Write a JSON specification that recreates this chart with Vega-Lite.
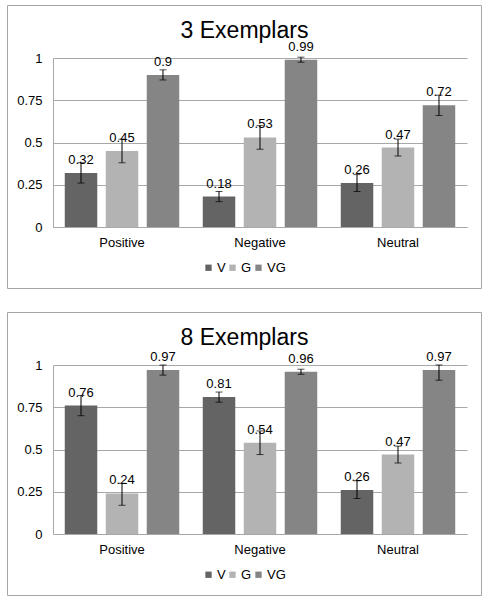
{
  "$schema": "https://vega.github.io/schema/vega-lite/v6.json",
  "padding": {"left": 6, "top": 4, "right": 0, "bottom": 0},
  "background": "white",
  "spacing": 24,
  "bounds": "flush",
  "config": {
    "font": "Liberation Sans",
    "view": {"stroke": "#a6a6a6", "strokeWidth": 1},
    "axis": {"labelFont": "Liberation Sans", "labelFontSize": 13, "labelColor": "#000000", "titleFont": "Liberation Sans"},
    "legend": {"labelFont": "Liberation Sans"}
  },
  "datasets": {
    "scores": [
      {"panel": "3 Exemplars", "cat": "Positive", "series": "V", "value": 0.32, "lo": 0.26, "hi": 0.38},
      {"panel": "3 Exemplars", "cat": "Positive", "series": "G", "value": 0.45, "lo": 0.38, "hi": 0.52},
      {"panel": "3 Exemplars", "cat": "Positive", "series": "VG", "value": 0.9, "lo": 0.87, "hi": 0.93},
      {"panel": "3 Exemplars", "cat": "Negative", "series": "V", "value": 0.18, "lo": 0.15, "hi": 0.21},
      {"panel": "3 Exemplars", "cat": "Negative", "series": "G", "value": 0.53, "lo": 0.46, "hi": 0.6},
      {"panel": "3 Exemplars", "cat": "Negative", "series": "VG", "value": 0.99, "lo": 0.975, "hi": 1.005},
      {"panel": "3 Exemplars", "cat": "Neutral", "series": "V", "value": 0.26, "lo": 0.21, "hi": 0.31},
      {"panel": "3 Exemplars", "cat": "Neutral", "series": "G", "value": 0.47, "lo": 0.42, "hi": 0.52},
      {"panel": "3 Exemplars", "cat": "Neutral", "series": "VG", "value": 0.72, "lo": 0.66, "hi": 0.78},
      {"panel": "8 Exemplars", "cat": "Positive", "series": "V", "value": 0.76, "lo": 0.7, "hi": 0.82},
      {"panel": "8 Exemplars", "cat": "Positive", "series": "G", "value": 0.24, "lo": 0.17, "hi": 0.3},
      {"panel": "8 Exemplars", "cat": "Positive", "series": "VG", "value": 0.97, "lo": 0.94, "hi": 1.0},
      {"panel": "8 Exemplars", "cat": "Negative", "series": "V", "value": 0.81, "lo": 0.78, "hi": 0.84},
      {"panel": "8 Exemplars", "cat": "Negative", "series": "G", "value": 0.54, "lo": 0.47, "hi": 0.61},
      {"panel": "8 Exemplars", "cat": "Negative", "series": "VG", "value": 0.96, "lo": 0.945, "hi": 0.975},
      {"panel": "8 Exemplars", "cat": "Neutral", "series": "V", "value": 0.26, "lo": 0.21, "hi": 0.315},
      {"panel": "8 Exemplars", "cat": "Neutral", "series": "G", "value": 0.47, "lo": 0.42, "hi": 0.52},
      {"panel": "8 Exemplars", "cat": "Neutral", "series": "VG", "value": 0.97, "lo": 0.91, "hi": 1.0}
    ]
  },
  "resolve": {"legend": {"color": "independent"}, "scale": {"color": "independent"}},
  "vconcat": [
    {
      "width": 474,
      "height": 283,
      "data": {"name": "scores"},
      "transform": [{"filter": "datum.panel === '3 Exemplars'"}],
      "encoding": {
        "x": {"field": "cat", "type": "nominal", "sort": ["Positive", "Negative", "Neutral"],
          "scale": {"range": [46, 460], "paddingInner": 0, "paddingOuter": 0},
          "axis": {"orient": "bottom", "offset": -61, "title": null, "labelAngle": 0, "ticks": false, "domain": true, "domainColor": "#a8a8a8", "labelPadding": 9, "grid": false}},
        "xOffset": {"field": "series", "type": "nominal", "sort": ["V", "G", "VG"], "scale": {"paddingInner": 0.207, "paddingOuter": 0.287}}
      },
      "layer": [
        {"mark": {"type": "bar"},
         "encoding": {
           "y": {"field": "value", "type": "quantitative", "title": "3 Exemplars",
             "scale": {"domain": [0, 1], "range": [222, 53], "nice": false, "zero": true},
             "axis": {"orient": "left", "offset": -46, "values": [0, 0.25, 0.5, 0.75, 1], "format": ".2~f", "ticks": false, "domain": true, "domainColor": "#a8a8a8", "labelPadding": 11, "grid": true, "gridColor": "#a8a8a8", "gridOpacity": 1,
               "titleAngle": 0, "titleX": 191, "titleY": 32, "titleAlign": "center", "titleBaseline": "alphabetic", "titleFontSize": 23, "titleFontWeight": "normal", "titleColor": "#000000"}},
           "color": {"field": "series", "type": "nominal", "sort": ["V", "G", "VG"],
             "scale": {"domain": ["V", "G", "VG"], "range": ["#646464", "#b3b3b3", "#858585"]},
             "legend": {"orient": "none", "legendX": 195, "legendY": 256, "direction": "horizontal", "title": null, "symbolType": "square", "symbolSize": 40, "labelFontSize": 13, "labelOffset": 2, "columnPadding": 0, "padding": 0, "symbolStrokeWidth": 0}}
         }},
        {"mark": {"type": "rule", "color": "#000000", "strokeWidth": 1},
         "encoding": {"y": {"field": "lo", "type": "quantitative"}, "y2": {"field": "hi"}}},
        {"mark": {"type": "tick", "color": "#000000", "size": 7, "thickness": 1},
         "encoding": {"y": {"field": "lo", "type": "quantitative"}}},
        {"mark": {"type": "tick", "color": "#000000", "size": 7, "thickness": 1},
         "encoding": {"y": {"field": "hi", "type": "quantitative"}}},
        {"mark": {"type": "text", "dy": -9, "baseline": "alphabetic", "fontSize": 13, "color": "#000000"},
         "encoding": {"y": {"field": "value", "type": "quantitative"}, "text": {"field": "value", "type": "quantitative", "format": ".2~f"}}}
      ]
    },
    {
      "width": 474,
      "height": 283,
      "data": {"name": "scores"},
      "transform": [{"filter": "datum.panel === '8 Exemplars'"}],
      "encoding": {
        "x": {"field": "cat", "type": "nominal", "sort": ["Positive", "Negative", "Neutral"],
          "scale": {"range": [46, 460], "paddingInner": 0, "paddingOuter": 0},
          "axis": {"orient": "bottom", "offset": -61, "title": null, "labelAngle": 0, "ticks": false, "domain": true, "domainColor": "#a8a8a8", "labelPadding": 9, "grid": false}},
        "xOffset": {"field": "series", "type": "nominal", "sort": ["V", "G", "VG"], "scale": {"paddingInner": 0.207, "paddingOuter": 0.287}}
      },
      "layer": [
        {"mark": {"type": "bar"},
         "encoding": {
           "y": {"field": "value", "type": "quantitative", "title": "8 Exemplars",
             "scale": {"domain": [0, 1], "range": [222, 53], "nice": false, "zero": true},
             "axis": {"orient": "left", "offset": -46, "values": [0, 0.25, 0.5, 0.75, 1], "format": ".2~f", "ticks": false, "domain": true, "domainColor": "#a8a8a8", "labelPadding": 11, "grid": true, "gridColor": "#a8a8a8", "gridOpacity": 1,
               "titleAngle": 0, "titleX": 191, "titleY": 32, "titleAlign": "center", "titleBaseline": "alphabetic", "titleFontSize": 23, "titleFontWeight": "normal", "titleColor": "#000000"}},
           "color": {"field": "series", "type": "nominal", "sort": ["V", "G", "VG"],
             "scale": {"domain": ["V", "G", "VG"], "range": ["#646464", "#b3b3b3", "#858585"]},
             "legend": {"orient": "none", "legendX": 195, "legendY": 256, "direction": "horizontal", "title": null, "symbolType": "square", "symbolSize": 40, "labelFontSize": 13, "labelOffset": 2, "columnPadding": 0, "padding": 0, "symbolStrokeWidth": 0}}
         }},
        {"mark": {"type": "rule", "color": "#000000", "strokeWidth": 1},
         "encoding": {"y": {"field": "lo", "type": "quantitative"}, "y2": {"field": "hi"}}},
        {"mark": {"type": "tick", "color": "#000000", "size": 7, "thickness": 1},
         "encoding": {"y": {"field": "lo", "type": "quantitative"}}},
        {"mark": {"type": "tick", "color": "#000000", "size": 7, "thickness": 1},
         "encoding": {"y": {"field": "hi", "type": "quantitative"}}},
        {"mark": {"type": "text", "dy": -9, "baseline": "alphabetic", "fontSize": 13, "color": "#000000"},
         "encoding": {"y": {"field": "value", "type": "quantitative"}, "text": {"field": "value", "type": "quantitative", "format": ".2~f"}}}
      ]
    }
  ]
}
